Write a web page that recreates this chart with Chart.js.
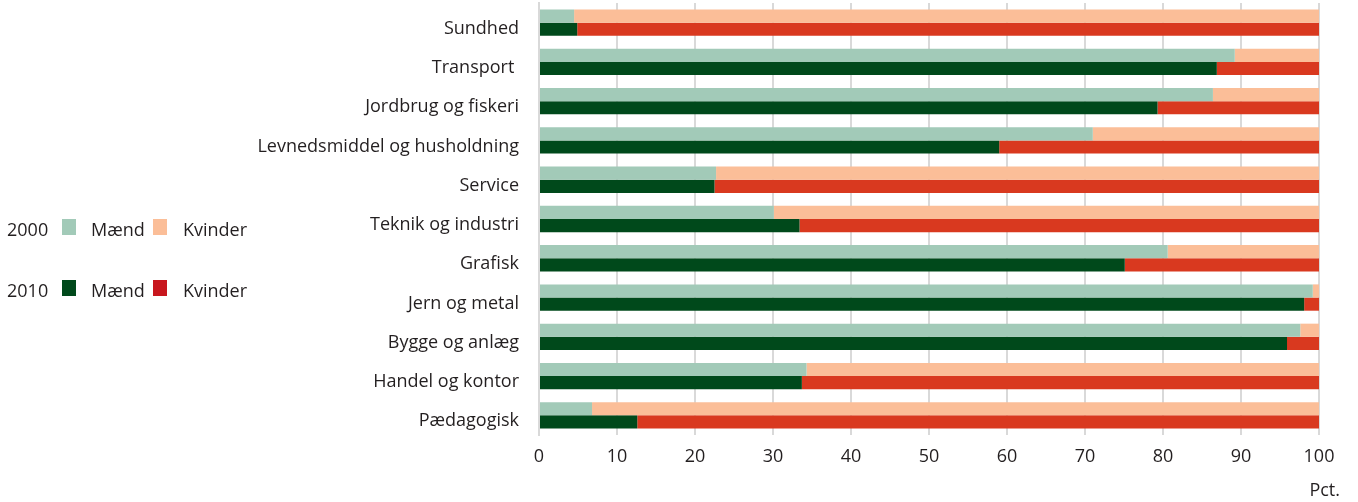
<!DOCTYPE html>
<html>
<head>
<meta charset="utf-8">
<script src="https://cdn.jsdelivr.net/npm/chart.js@4.4.1/dist/chart.umd.min.js"></script>
<style>
  html, body { margin: 0; padding: 0; background: #fff; }
  #wrap { position: relative; width: 1358px; height: 502px; }
</style>
</head>
<body>
<div id="wrap"><canvas id="uddannelse-chart" width="1358" height="502"></canvas></div>
<script>
// Kønsfordeling på erhvervsuddannelser, 2000 og 2010 (pct.)
const categories = ['Sundhed', 'Transport ', 'Jordbrug og fiskeri', 'Levnedsmiddel og husholdning', 'Service',
    'Teknik og industri', 'Grafisk', 'Jern og metal', 'Bygge og anlæg', 'Handel og kontor', 'Pædagogisk'];
const maend2000 = [4.5, 89.2, 86.4, 71.0, 22.7, 30.1, 80.6, 99.2, 97.6, 34.3, 6.8];
const kvinder2000 = [95.5, 10.8, 13.6, 29.0, 77.3, 69.9, 19.4, 0.8, 2.4, 65.7, 93.2];
const maend2010 = [4.9, 86.9, 79.3, 59.0, 22.5, 33.4, 75.1, 98.1, 95.9, 33.7, 12.6];
const kvinder2010 = [95.1, 13.1, 20.7, 41.0, 77.5, 66.6, 24.9, 1.9, 4.1, 66.3, 87.4];
const xTicks = [0, 10, 20, 30, 40, 50, 60, 70, 80, 90, 100];

const FONT = "'Open Sans', 'Noto Sans', sans-serif";
const colors = {
    m2000: '#a2cab8', k2000: '#fbbe98',
    m2010: '#00491b', k2010: '#d9391f'
};

// legend to the left + "Pct." under the axis
const sideText = {
    id: 'sideText',
    afterDraw(chart) {
        const c = chart.ctx;
        c.save();
        c.font = '18px ' + FONT;
        c.textBaseline = 'middle';
        c.textAlign = 'left';
        const rows = [
            { year: '2000', y: 231, m: colors.m2000, k: colors.k2000 },
            { year: '2010', y: 292, m: colors.m2010, k: '#c8171e' }
        ];
        rows.forEach(r => {
            c.fillStyle = '#231f20';
            c.fillText(r.year, 7, r.y);
            c.fillText('Mænd', 91, r.y);
            c.fillText('Kvinder', 183, r.y);
            c.fillStyle = r.m;
            c.fillRect(62, r.y - 12, 14, 16);
            c.fillStyle = r.k;
            c.fillRect(153, r.y - 12, 14, 16);
        });
        c.fillStyle = '#231f20';
        c.textAlign = 'right';
        c.fillText('Pct.', 1340, 491);
        c.restore();
    }
};

const ctx = document.getElementById('uddannelse-chart').getContext('2d');
const chart = new Chart(ctx, {
    type: 'bar',
    data: {
        labels: categories,
        datasets: [
            { label: '2000 Mænd', data: maend2000, backgroundColor: colors.m2000, stack: 's2000' },
            { label: '2000 Kvinder', data: kvinder2000, backgroundColor: colors.k2000, stack: 's2000' },
            { label: '2010 Mænd', data: maend2010, backgroundColor: colors.m2010, stack: 's2010' },
            { label: '2010 Kvinder', data: kvinder2010, backgroundColor: colors.k2010, stack: 's2010' }
        ]
    },
    options: {
        indexAxis: 'y',
        responsive: false,
        animation: false,
        layout: { padding: { top: 3, right: 39, bottom: 0, left: 0 } },
        datasets: { bar: { categoryPercentage: 0.67, barPercentage: 1.0, borderWidth: 0 } },
        plugins: { legend: { display: false }, tooltip: { enabled: false } },
        scales: {
            x: {
                min: 0, max: 100,
                stacked: true,
                afterBuildTicks: s => { s.ticks = xTicks.map(v => ({ value: v })); },
                afterFit: s => { s.height = 67; s.paddingLeft = 0; s.paddingRight = 0; },
                grid: { color: '#d9d9d9', lineWidth: 2, drawTicks: false },
                border: { display: false },
                ticks: { padding: 11, color: '#231f20', font: { family: FONT, size: 18 } }
            },
            y: {
                stacked: true,
                afterFit: s => { s.width = 539; s.paddingTop = 0; s.paddingBottom = 0; },
                grid: { display: false },
                border: { display: true, color: '#d9d9d9', width: 2 },
                ticks: { padding: 12, labelOffset: 6, color: '#231f20', font: { family: FONT, size: 18 } }
            }
        }
    },
    plugins: [sideText]
});
</script>
</body>
</html>
